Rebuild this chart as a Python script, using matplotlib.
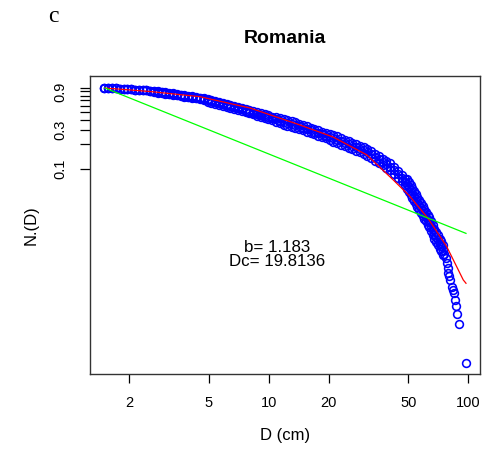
import matplotlib
matplotlib.use("Agg")
import matplotlib.pyplot as plt
from matplotlib.ticker import FixedLocator, NullLocator, FixedFormatter

plt.rcParams['font.family'] = ['Liberation Sans', 'DejaVu Sans']

# ---- data ----
dbh = [1.5, 1.57, 1.64, 1.71, 1.79, 1.87, 1.95, 2.04, 2.13, 2.23, 2.33, 2.43, 2.54,
       2.66, 2.78, 2.9, 3.03, 3.17, 3.31, 3.46, 3.62, 3.78, 3.95, 4.13, 4.32, 4.51,
       4.71, 4.93, 5.15, 5.38, 5.62, 5.87, 6.14, 6.41, 6.7,
       7.0, 7.32, 7.65, 7.99, 8.35, 8.73, 9.12, 9.53, 9.96, 10.4,
       10.9, 11.4, 11.9, 12.4, 13.0, 13.6, 14.2, 14.8, 15.5, 16.2, 16.9, 17.7, 18.5, 19.3, 20.2,
       21.1, 22.0, 23.0, 24.0, 25.1, 26.2, 27.4, 28.6, 29.9, 31.2, 32.6, 34.1, 35.6, 37.2,
       38.9, 40.6, 42.4, 44.3, 46.3, 48.4,
       49.4, 50.4, 51.4, 52.4, 53.4, 54.5, 55.6, 56.7, 57.8, 59.0, 60.2, 61.4, 62.6, 63.8,
       65.1, 66.4, 67.7, 69.1, 70.5, 71.9, 73.3, 74.8]

surv_mid = [1.0, .993, .986, .979, .972, .964, .959, .951, .944, .938, .931, .925, .918,
            .902, .887, .875, .859, .845, .832, .818, .804, .791, .778, .766, .752, .740,
            .719, .698, .679, .659, .641, .622, .605, .587, .571,
            .555, .538, .522, .508, .492, .476, .461, .447, .433, .419,
            .405, .392, .379, .368, .356, .344, .333, .322, .309, .297, .286, .275, .265, .255, .246,
            .237, .227, .217, .208, .199, .191, .183, .175, .168, .160, .150, .139, .130, .121,
            .113, .105, .0953, .0855, .0766, .0687,
            .0647, .0597, .0546, .0504, .0459, .0424, .0387, .0354, .0327, .0301, .0276, .0256, .0235, .0218,
            .0196, .0177, .0158, .0143, .0130, .0119, .0110, .0100]

surv_hi = [1.0, .993, .986, .979, .972, .964, .959, .951, .944, .938, .931, .925, .918,
           .920, .905, .893, .876, .862, .849, .834, .820, .807, .794, .781, .767, .755,
           .744, .722, .703, .682, .663, .644, .626, .608, .591,
           .583, .565, .548, .533, .517, .500, .484, .469, .455, .440,
           .437, .423, .409, .397, .384, .372, .360, .348, .334, .321, .309, .297, .286, .275, .266,
           .261, .250, .239, .229, .219, .210, .201, .193, .185, .176, .165, .153, .143, .133,
           .124, .116, .105, .0941, .0843, .0756,
           .0744, .0687, .0628, .0580, .0528, .0488, .0445, .0407, .0376, .0346, .0317, .0294, .0270, .0251,
           .0225, .0204, .0182, .0164, .0150, .0137, .0127, .0115]

surv_lo = [1.0, .993, .986, .979, .972, .964, .959, .951, .944, .938, .931, .925, .918,
           .884, .870, .858, .842, .828, .816, .802, .788, .775, .763, .751, .737, .725,
           .695, .674, .656, .637, .619, .601, .585, .567, .552,
           .529, .512, .497, .484, .469, .453, .439, .426, .412, .399,
           .375, .363, .351, .341, .330, .319, .308, .298, .286, .275, .265, .255, .245, .236, .228,
           .215, .206, .197, .189, .181, .174, .166, .159, .153, .145, .136, .126, .118, .110,
           .103, .0955, .0866, .0777, .0696, .0625,
           .0563, .0519, .0475, .0438, .0399, .0369, .0337, .0308, .0284, .0262, .0240, .0223, .0204, .0190,
           .0170, .0154, .0137, .0124, .0113, .0103, .0096, .0087]

tail_d = [76.0, 77.0, 78.0, 78.8, 79.5, 80.3, 81.1, 82.6, 83.5, 84.9, 86.1, 86.8, 88.1, 89.9, 97.4]
tail_n = [0.0088, 0.0078, 0.0068, 0.0060, 0.0052, 0.0047, 0.0042, 0.0035, 0.0032, 0.0029,
          0.0024, 0.0020, 0.0016, 0.0012, 0.0004]

fit_d = [1.51, 2.54, 4.52, 8.05, 14.3, 21.0, 31.0, 42.1, 50.8, 62.8, 78.0, 94.4, 97.4]
fit_n = [0.99, 0.897, 0.774, 0.561, 0.347, 0.246, 0.148, 0.0725, 0.046, 0.0244, 0.0109, 0.00423, 0.00385]

pow_d = [1.51, 97.4]
pow_n = [0.99, 0.0159]

b_value = "1.183"
dc_value = "19.8136"

x_ticks = [2, 5, 10, 20, 50, 100]
y_ticks = [0.1, 0.2, 0.3, 0.4, 0.5, 0.6, 0.7, 0.8, 0.9, 1.0]
y_labels = ["0.1", "", "0.3", "", "", "", "", "", "0.9", ""]

# ---- figure ----
fig = plt.figure(figsize=(4.84, 4.57), dpi=100)
ax = fig.add_axes([90/484, 1-374/457, 390/484, 298/457])

blue = '#0000FF'
mk = dict(marker='o', linestyle='none', markersize=5.6, markerfacecolor='none',
          markeredgecolor=blue, markeredgewidth=1.15)
ax.plot(dbh, surv_hi, **mk)
ax.plot(dbh, surv_mid, **mk)
ax.plot(dbh, surv_lo, **mk)
ax.plot(tail_d, tail_n, **mk)

ax.plot(fit_d, fit_n, color='#FF0000', lw=0.9)
ax.plot(pow_d, pow_n, color='#00FF00', lw=0.9)

ax.set_xscale('log')
ax.set_yscale('log')
ax.set_xlim(1.27, 114.5)
ax.set_ylim(2.92e-4, 1.394)

ax.xaxis.set_major_locator(FixedLocator(x_ticks))
ax.xaxis.set_major_formatter(FixedFormatter([str(t) for t in x_ticks]))
ax.xaxis.set_minor_locator(NullLocator())
ax.yaxis.set_major_locator(FixedLocator(y_ticks))
ax.yaxis.set_major_formatter(FixedFormatter(y_labels))
ax.yaxis.set_minor_locator(NullLocator())

ax.tick_params(axis='x', direction='out', length=6.5, width=0.9, labelsize=10.5, pad=9)
ax.tick_params(axis='y', direction='out', length=7, width=0.9, labelsize=10.5, pad=9)
for lab in ax.get_yticklabels():
    lab.set_rotation(90)
    lab.set_va('center')

for sp in ax.spines.values():
    sp.set_linewidth(1.0)
    sp.set_color('#333333')

ax.set_xlabel("D (cm)", fontsize=12, labelpad=13)
ax.set_ylabel("N.(D)", fontsize=12, labelpad=11)
ax.set_title("Romania", fontsize=14, fontweight='bold', pad=24)

ax.text(11.0, 0.0087, "b= " + b_value + "\nDc= " + dc_value, ha='center', va='center',
        fontsize=12.2, linespacing=0.85, multialignment='center')

fig.text(53/484, 1-17/457, "c", fontsize=17, family=['Liberation Serif', 'DejaVu Serif'],
         ha='center', va='center')

fig.savefig("out.png", dpi=100)
